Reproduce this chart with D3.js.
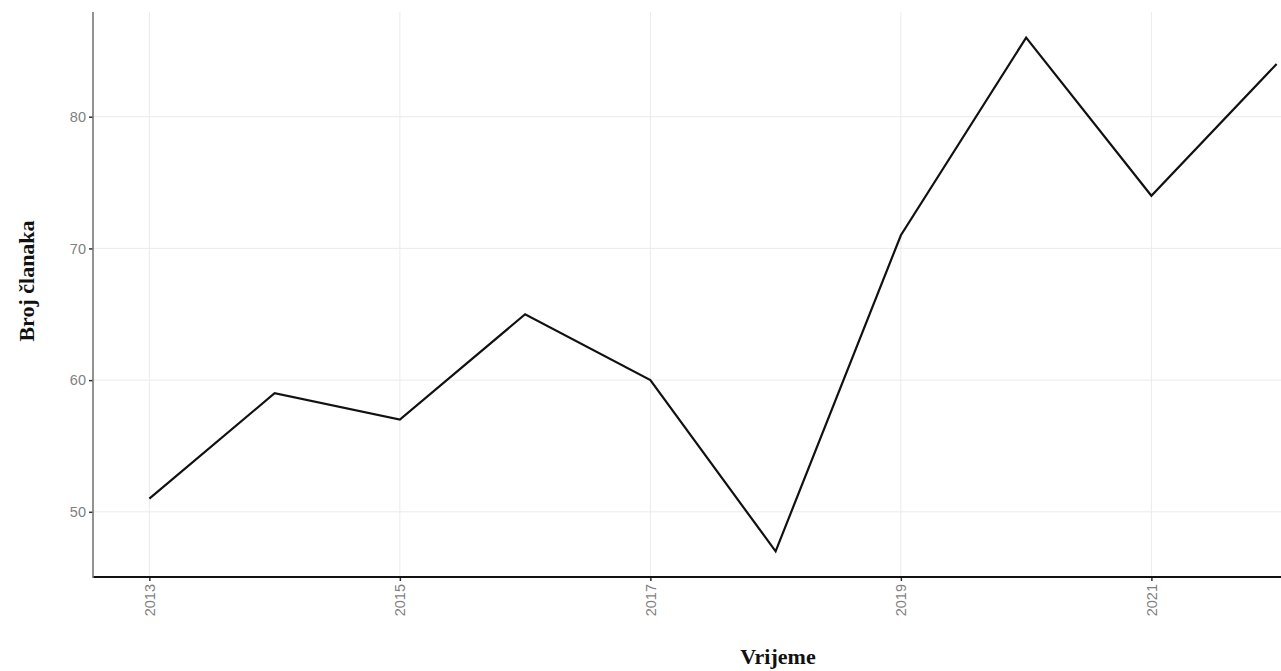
<!DOCTYPE html>
<html><head><meta charset="utf-8">
<script src="https://cdn.jsdelivr.net/npm/d3@7"></script>
<style>body{margin:0;background:#fff;overflow:hidden}</style>
</head><body>
<svg id="c" width="1281" height="671"></svg>
<script>
const years = [2013,2014,2015,2016,2017,2018,2019,2020,2021,2022];
const counts = [51,59,57,65,60,47,71,86,74,84];
const xTicks = [2013,2015,2017,2019,2021];
const yTicks = [50,60,70,80];

const svg = d3.select("#c");
const L = 93, T = 12, B = 577, R = 1333;
const x = d3.scaleLinear().domain([2012.55, 2022.45]).range([L, R]);
const y = d3.scaleLinear().domain([45.05, 87.95]).range([B, T]);

svg.append("defs").append("clipPath").attr("id","pc")
  .append("rect").attr("x",L).attr("y",T).attr("width",1281-L).attr("height",B-T);

const g = svg.append("g").attr("clip-path","url(#pc)");
g.selectAll(".gx").data(xTicks).join("line")
  .attr("x1",d=>x(d)).attr("x2",d=>x(d)).attr("y1",T).attr("y2",B)
  .attr("stroke","#ebebeb").attr("stroke-width",1);
g.selectAll(".gy").data(yTicks).join("line")
  .attr("x1",L).attr("x2",1281).attr("y1",d=>y(d)).attr("y2",d=>y(d))
  .attr("stroke","#ebebeb").attr("stroke-width",1);

const line = d3.line().x((d,i)=>x(years[i])).y(d=>y(d));
g.append("path").datum(counts).attr("d",line).attr("fill","none")
  .attr("stroke","#111").attr("stroke-width",2.2).attr("stroke-linejoin","miter");

// axes
const xAxis = svg.append("g").attr("transform",`translate(0,${B})`)
  .call(d3.axisBottom(x).tickValues(xTicks).tickFormat(d3.format("d")).tickSize(4).tickPadding(4));
xAxis.select(".domain").remove();
xAxis.selectAll(".tick line").attr("stroke","#333").attr("stroke-width",1.5);
xAxis.selectAll(".tick text").attr("transform","rotate(-90)").attr("text-anchor","end")
  .attr("x",-7).attr("y",0).attr("dy","0.35em")
  .style("font-family","'Liberation Sans', Arial, sans-serif").style("font-size","14.5px").attr("fill","#7f7f7f");
svg.append("line").attr("x1",L).attr("x2",1281).attr("y1",B).attr("y2",B)
  .attr("stroke","#111").attr("stroke-width",2);

const yAxis = svg.append("g").attr("transform",`translate(${L},0)`)
  .call(d3.axisLeft(y).tickValues(yTicks).tickSize(4).tickPadding(3));
yAxis.select(".domain").remove();
yAxis.selectAll(".tick line").attr("stroke","#333").attr("stroke-width",1.5);
yAxis.selectAll(".tick text")
  .style("font-family","'Liberation Sans', Arial, sans-serif").style("font-size","14.5px").attr("fill","#7f7f7f");
svg.append("line").attr("x1",L).attr("x2",L).attr("y1",T).attr("y2",B+1)
  .attr("stroke","#777").attr("stroke-width",1.6);

svg.append("text").attr("x",778).attr("y",664).attr("text-anchor","middle")
  .style("font-family","'Liberation Serif', 'Times New Roman', serif").style("font-weight","bold").style("font-size","22px")
  .attr("fill","#111").text("Vrijeme");
svg.append("text").attr("transform","translate(26,281) rotate(-90)").attr("text-anchor","middle")
  .attr("dy","0.35em")
  .style("font-family","'Liberation Serif', 'Times New Roman', serif").style("font-weight","bold").style("font-size","22px")
  .attr("fill","#111").text("Broj članaka");
</script>
</body></html>
